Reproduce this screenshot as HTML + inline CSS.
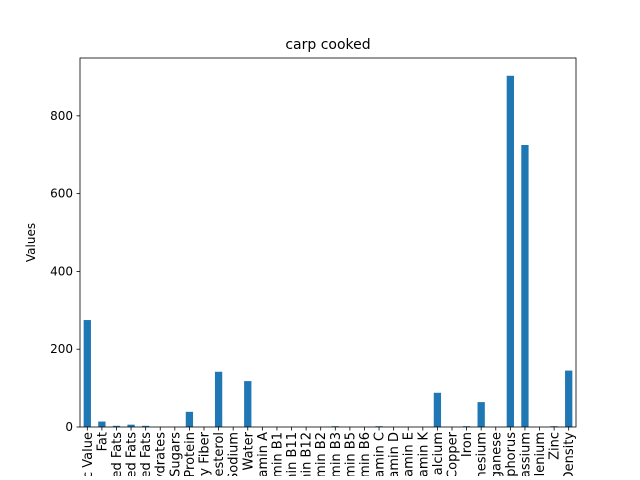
<!DOCTYPE html>
<html><head><meta charset="utf-8"><style>
html,body{margin:0;background:#fff;width:640px;height:480px;overflow:hidden;}
svg{display:block;font-family:"DejaVu Sans","Liberation Sans",sans-serif;}
</style></head><body>
<svg id="chart" width="640" height="480" viewBox="0 0 640 480" xmlns="http://www.w3.org/2000/svg" overflow="hidden">
<defs><clipPath id="xclip"><rect x="0" y="0" width="640" height="476"/></clipPath></defs>
<rect width="640" height="480" fill="#fff"/>
<text x="328" y="49" font-size="14" text-anchor="middle">carp cooked</text>
<text transform="translate(35,242.5) rotate(-90)" font-size="12" text-anchor="middle">Values</text>
<g id="bars"></g><g id="yticks"></g><g id="xticks" clip-path="url(#xclip)"></g>
<rect x="80" y="58" width="496" height="369" fill="none" stroke="#000" stroke-width="0.8"/>
</svg>
<script>
const categories=["Caloric Value","Fat","Saturated Fats","Monounsaturated Fats","Polyunsaturated Fats","Carbohydrates","Sugars","Protein","Dietary Fiber","Cholesterol","Sodium","Water","Vitamin A","Vitamin B1","Vitamin B11","Vitamin B12","Vitamin B2","Vitamin B3","Vitamin B5","Vitamin B6","Vitamin C","Vitamin D","Vitamin E","Vitamin K","Calcium","Copper","Iron","Magnesium","Manganese","Phosphorus","Potassium","Selenium","Zinc","Nutrition Density"];
const values=[275,14,3,6,3,0,0,39,0,142,0,118,0,0,0,0,0,2,0,0,2,0,0,0,88,0,2,64,0,903,725,0,2,145];
const yTicks=[0,200,400,600,800];
const NS="http://www.w3.org/2000/svg";
const L=80,R=576,T=58,B=427,yMax=948.7;
const y=v=>B-(v/yMax)*(B-T);
const slot=(R-L)/categories.length;
const x=i=>L+slot*(i+0.5);
const bars=document.getElementById('bars'),yt=document.getElementById('yticks'),xt=document.getElementById('xticks');
function mk(t,a){const e=document.createElementNS(NS,t);for(const k in a)e.setAttribute(k,a[k]);return e;}
values.forEach((v,i)=>{
 const r=mk('rect',{x:x(i)-slot*0.25,y:y(v),width:slot*0.5,height:B-y(v),fill:'#1f77b4'});
 
 
 bars.appendChild(r);
});
yTicks.forEach(t=>{
 const g=mk('g',{});
 
 
 g.appendChild(mk('line',{x1:L-3.5,x2:L,y1:y(t),y2:y(t),stroke:'#000','stroke-width':0.8}));
 const tx=mk('text',{x:L-7,y:y(t)+4,'font-size':12,'text-anchor':'end'});tx.textContent=t;g.appendChild(tx);
 yt.appendChild(g);
});
categories.forEach((c,i)=>{
 const g=mk('g',{});
 
 
 g.appendChild(mk('line',{x1:x(i),x2:x(i),y1:B,y2:B+3.5,stroke:'#000','stroke-width':0.8}));
 const tx=mk('text',{transform:`translate(${x(i)+4.5},${B+5}) rotate(-90)`,'font-size':13,'text-anchor':'end'});tx.textContent=c;g.appendChild(tx);
 xt.appendChild(g);
});
</script>
</body></html>
